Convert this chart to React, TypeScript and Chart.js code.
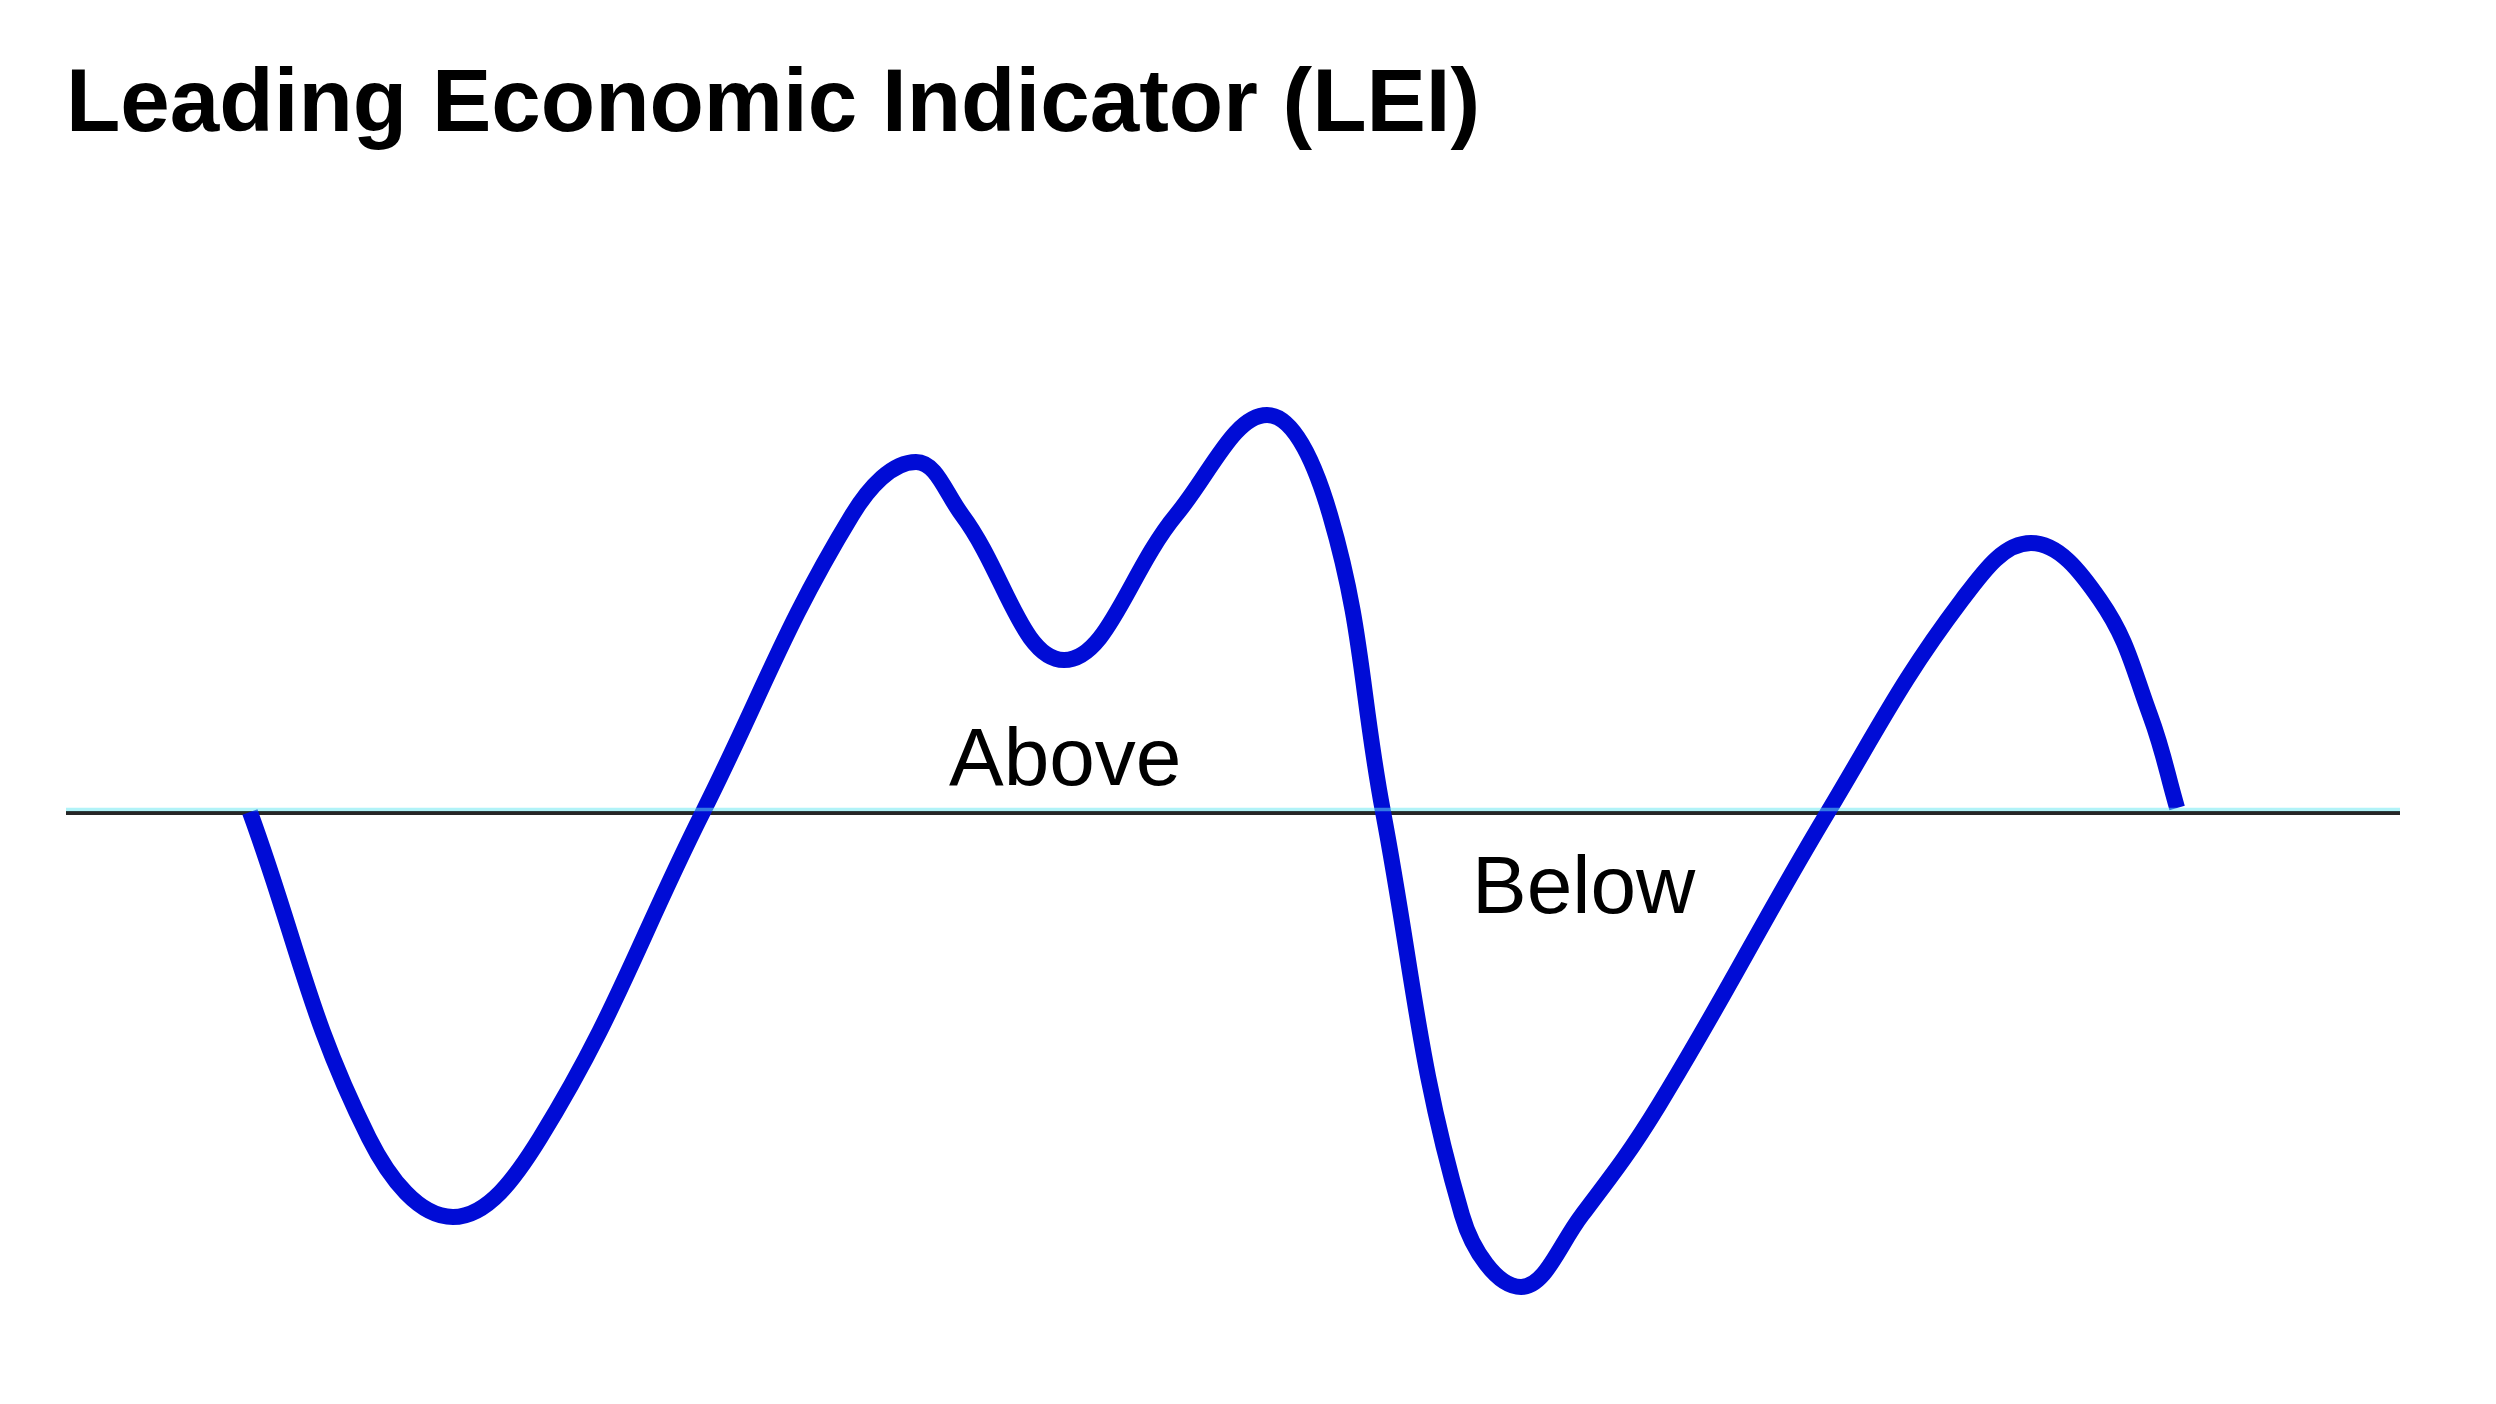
import React, { useEffect, useRef } from "react";
import { Chart, registerables } from "chart.js";

Chart.register(...registerables);

// Time axis (periods) and LEI deviation from the trend line (0 = baseline)
const periods = [
  7.88, 12.98, 16.58, 20.31, 27.29, 33.68, 36.42, 38.39, 42.76, 47.56, 51.46, 54.16,
  56.43, 59.81, 62.34, 64.95, 68.25, 75.49, 81.23, 84.19, 87.15, 89.29, 90.45,
];
const leiValues = [
  0, -81.5, -101.25, -81.5, 0, 74.25, 87.5, 74.25, 38, 74.25, 99.25, 74.25,
  0, -100.75, -118.75, -100.75, -73.25, 0, 53, 67.25, 53, 24.25, 1,
];

const titleText = "Leading Economic Indicator (LEI)";
const zoneLabels = ["Above", "Below"];
const zoneLabelX = [37.83, 60.24];
const zoneLabelY = [6.75, -25.25];

const X_MIN = 0;
const X_MAX = 100;
const Y_MIN = -125;
const Y_MAX = 125;

const baselinePlugin = {
  id: "baselinePlugin",
  beforeDatasetsDraw(chart: any) {
    const { ctx, chartArea, scales } = chart;
    const y0 = scales.y.getPixelForValue(0);
    ctx.save();
    ctx.strokeStyle = "#262626";
    ctx.lineWidth = 4;
    ctx.beginPath();
    ctx.moveTo(chartArea.left, y0 + 1);
    ctx.lineTo(chartArea.right, y0 + 1);
    ctx.stroke();
    ctx.restore();
  },
  afterDatasetsDraw(chart: any) {
    const { ctx, chartArea, scales } = chart;
    const y0 = scales.y.getPixelForValue(0);
    ctx.save();
    ctx.strokeStyle = "rgba(100, 232, 242, 0.5)";
    ctx.lineWidth = 3.5;
    ctx.beginPath();
    ctx.moveTo(chartArea.left, y0 - 2.6);
    ctx.lineTo(chartArea.right, y0 - 2.6);
    ctx.stroke();

    ctx.fillStyle = "#000000";
    ctx.font = "normal 82px 'Liberation Sans', Arial, sans-serif";
    ctx.textAlign = "left";
    ctx.textBaseline = "alphabetic";
    zoneLabels.forEach((label, i) => {
      const px = scales.x.getPixelForValue(zoneLabelX[i]);
      const py = scales.y.getPixelForValue(zoneLabelY[i]);
      ctx.fillText(label, px, py);
    });
    ctx.restore();
  },
};

export default function App() {
  const canvasRef = useRef<HTMLCanvasElement | null>(null);

  useEffect(() => {
    if (!canvasRef.current) return;
    const chart = new Chart(canvasRef.current, {
      type: "line",
      data: {
        datasets: [
          {
            label: "LEI",
            data: periods.map((p, i) => ({ x: p, y: leiValues[i] })),
            borderColor: "#000cd6",
            borderWidth: 16,
            borderCapStyle: "butt",
            borderJoinStyle: "round",
            tension: 0.4,
            pointRadius: 0,
            pointHoverRadius: 0,
            fill: false,
          },
        ],
      },
      options: {
        animation: false,
        responsive: false,
        devicePixelRatio: 1,
        layout: { padding: { left: 66, right: 96, top: 0, bottom: 92 } },
        scales: {
          x: { type: "linear", min: X_MIN, max: X_MAX, display: false },
          y: { type: "linear", min: Y_MIN, max: Y_MAX, display: false },
        },
        plugins: {
          legend: { display: false },
          tooltip: { enabled: false },
          title: {
            display: true,
            text: titleText,
            align: "start",
            color: "#000000",
            font: {
              family: "'Liberation Sans', Arial, sans-serif",
              size: 89,
              weight: "bold",
              lineHeight: 1,
            },
            padding: { top: 62, bottom: 161 },
          },
        },
      },
      plugins: [baselinePlugin],
    });
    return () => chart.destroy();
  }, []);

  return (
    <div style={{ position: "absolute", left: 0, top: 0, width: 2496, height: 1404, background: "#ffffff" }}>
      <canvas ref={canvasRef} width={2496} height={1404} style={{ display: "block" }} />
    </div>
  );
}
